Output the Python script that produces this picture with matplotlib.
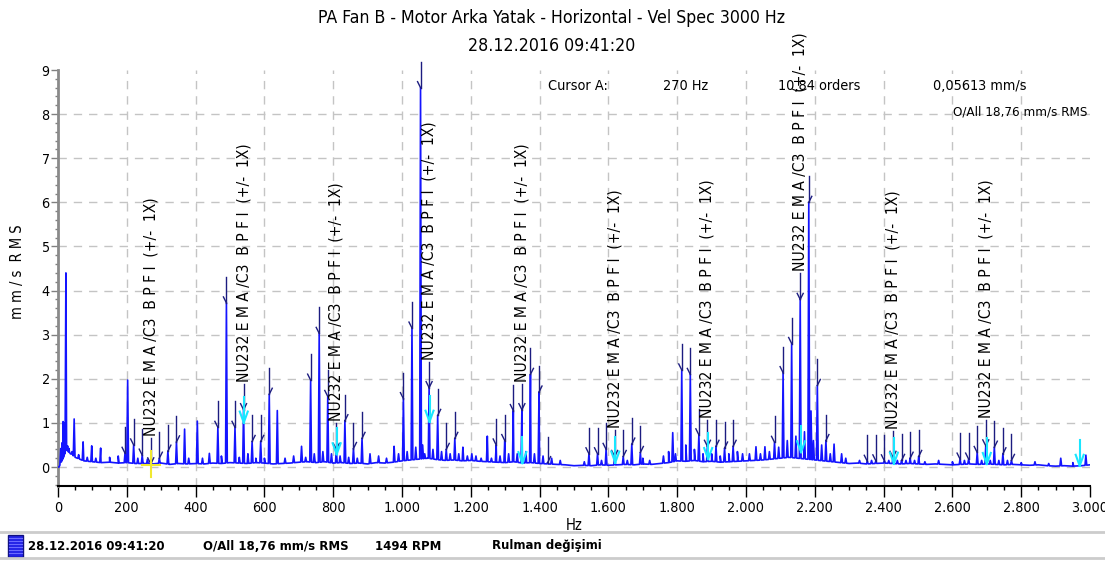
import os
import numpy as np
import matplotlib
matplotlib.use('Agg')
import matplotlib.pyplot as plt
from matplotlib import font_manager
from matplotlib.lines import Line2D
from matplotlib.patches import Rectangle
from matplotlib.ticker import MultipleLocator, FuncFormatter

# --- data -----------------------------------------------------------------
title_1 = 'PA Fan B - Motor Arka Yatak - Horizontal - Vel Spec 3000 Hz'
title_2 = '28.12.2016 09:41:20'
bar_texts = ['28.12.2016 09:41:20', 'O/All 18,76 mm/s RMS', '1494 RPM', 'Rulman değişimi']
cursor_texts = ['Cursor A:', '270 Hz', '10,84 orders', '0,05613 mm/s']
overall_text = 'O/All 18,76 mm/s RMS'
fault_label = 'NU232 E M A /C3  B P F I  (+/-  1X)'
x_grid = [200, 400, 600, 800, 1000, 1200, 1400, 1600, 1800, 2000, 2200, 2400, 2600, 2800]
y_grid = [0, 1, 2, 3, 4, 5, 6, 7, 8]

speed_hz = 24.9        # 1X (1494 RPM)
bpfi_hz = 269.7        # NU232 EMA/C3 BPFI
cursor_hz = 270.0
cursor_val = 0.05613

# noise floor every 25 Hz (mm/s)
floor_hz = [0, 3] + list(range(25, 3001, 25))
floor_amp = [0.0, 0.0,
             0.38, 0.22, 0.14, 0.12, 0.10, 0.11, 0.09, 0.10, 0.08,
             0.08, 0.07, 0.09, 0.06, 0.08, 0.07, 0.08, 0.07, 0.09, 0.08,
             0.10, 0.09, 0.08, 0.10, 0.09, 0.07, 0.08, 0.09, 0.11, 0.12,
             0.10, 0.12, 0.09, 0.10, 0.08, 0.09, 0.07, 0.10, 0.09, 0.11,
             0.14, 0.16, 0.18, 0.20, 0.17, 0.15, 0.16, 0.14, 0.15, 0.13,
             0.12, 0.11, 0.10, 0.12, 0.09, 0.10, 0.08, 0.07, 0.06, 0.05,
             0.03, 0.04, 0.03, 0.05, 0.04, 0.05, 0.06, 0.05, 0.07, 0.06,
             0.08, 0.10, 0.14, 0.13, 0.15, 0.12, 0.13, 0.11, 0.12, 0.13,
             0.14, 0.15, 0.16, 0.18, 0.20, 0.22, 0.20, 0.18, 0.16, 0.14,
             0.12, 0.10, 0.08, 0.09, 0.07, 0.08, 0.09, 0.08, 0.07, 0.08,
             0.07, 0.06, 0.07, 0.06, 0.05, 0.06, 0.07, 0.06, 0.07, 0.06,
             0.05, 0.06, 0.05, 0.04, 0.05, 0.03, 0.02, 0.03, 0.02, 0.03,
             0.05]

# peaks at the BPFI harmonics and their 1X sidebands
peak_hz = [194.9, 219.9, 244.8, 294.6, 319.5, 344.4,
           464.7, 489.6, 514.5, 539.4, 564.3, 589.2, 614.1,
           734.4, 759.3, 784.2, 809.1, 834.0, 858.9, 883.8,
           1004.1, 1029.0, 1053.9, 1078.8, 1103.7, 1128.6, 1153.5,
           1273.8, 1298.7, 1323.6, 1348.5, 1373.4, 1398.3, 1423.2,
           1543.5, 1568.4, 1593.3, 1618.2, 1643.1, 1668.0, 1692.9,
           1813.2, 1838.1, 1863.0, 1887.9, 1912.8, 1937.7, 1962.6,
           2082.9, 2107.8, 2132.7, 2157.6, 2182.5, 2207.4, 2232.3,
           2352.6, 2377.5, 2402.4, 2427.3, 2452.2, 2477.1, 2502.0,
           2622.3, 2647.2, 2672.1, 2697.0, 2721.9, 2746.8, 2771.7]
peak_amp = [0.32, 0.50, 0.27, 0.20, 0.36, 0.57,
            0.90, 3.72, 0.90, 1.30, 0.58, 0.58, 1.65,
            1.97, 3.03, 1.60, 0.40, 1.05, 0.42, 0.65,
            1.55, 3.15, 8.60, 1.80, 1.17, 0.40, 0.65,
            0.50, 0.60, 1.28, 1.30, 2.10, 1.70, 0.10,
            0.30, 0.30, 0.40, 0.24, 0.24, 0.52, 0.33,
            2.20, 2.10, 0.73, 0.47, 0.47, 0.43, 0.47,
            0.56, 2.14, 2.80, 3.80, 6.00, 1.85, 0.60,
            0.13, 0.14, 0.14, 0.22, 0.15, 0.20, 0.24,
            0.18, 0.18, 0.33, 0.48, 0.45, 0.30, 0.15]

# other lines in the spectrum
other_hz = [8, 12, 15, 18, 23, 28, 32, 36, 41, 47, 60, 73, 85, 98, 110, 124, 150, 175,
            202.5, 232, 260, 368, 380, 405, 420, 440,
            475, 527, 552, 575, 600, 637.5, 660, 685, 708, 720, 745, 770, 795, 820, 845,
            870, 907, 932, 955, 977, 990,
            1015, 1040, 1060, 1066, 1090, 1115, 1140, 1165, 1177, 1190, 1203, 1215, 1230, 1248,
            1260, 1285, 1310, 1335, 1360, 1385, 1410, 1435, 1460,
            1530, 1580, 1655, 1700, 1720, 1760, 1775, 1787, 1795,
            1825, 1850, 1875, 1900, 1925, 1950, 1975, 1990,
            2010, 2029, 2042, 2055, 2068, 2095, 2120, 2145, 2170, 2189, 2196, 2220, 2245,
            2256, 2278, 2290,
            2330, 2365, 2415, 2440, 2465, 2490, 2520, 2560, 2600, 2635, 2685, 2710, 2735,
            2760, 2800, 2840, 2880, 2915, 2950, 2988]
other_amp = [0.42, 0.55, 1.03, 1.00, 4.40, 0.48, 0.42, 0.30, 0.35, 1.09, 0.28, 0.57, 0.22,
             0.48, 0.20, 0.43, 0.22, 0.25,
             1.97, 0.20, 0.18, 0.86, 0.20, 1.04, 0.20, 0.31,
             0.25, 0.22, 0.30, 0.20, 0.20, 1.28, 0.20, 0.25, 0.47, 0.22, 0.30, 0.35, 0.30,
             0.25, 0.22, 0.20, 0.30, 0.25, 0.20, 0.47, 0.30,
             0.35, 0.45, 0.50, 0.30, 0.40, 0.35, 0.30, 0.30, 0.45, 0.25, 0.30, 0.25, 0.20, 0.70,
             0.20, 0.25, 0.30, 0.30, 0.35, 0.30, 0.25, 0.20, 0.15,
             0.12, 0.15, 0.15, 0.20, 0.15, 0.25, 0.35, 0.78, 0.30,
             0.50, 0.40, 0.30, 0.30, 0.25, 0.30, 0.35, 0.30,
             0.30, 0.46, 0.30, 0.46, 0.35, 0.45, 0.60, 0.70, 0.80, 1.27, 0.60, 0.50, 0.30,
             0.52, 0.30, 0.20,
             0.15, 0.15, 0.15, 0.15, 0.15, 0.15, 0.12, 0.15, 0.12, 0.15, 0.15, 0.15, 0.15,
             0.15, 0.10, 0.12, 0.08, 0.20, 0.10, 0.27]

# --- build the spectrum line ----------------------------------------------
hw = 2.5
all_hz = np.array(peak_hz + other_hz)
all_amp = np.array(peak_amp + other_amp)
feet = np.concatenate([all_hz - hw, all_hz + hw])
xs = np.concatenate([np.array(floor_hz, float), feet, all_hz])
ys = np.concatenate([np.array(floor_amp), np.interp(feet, floor_hz, floor_amp), all_amp])
order = np.argsort(xs, kind='stable')
spec_hz, spec_amp = xs[order], ys[order]

# --- fonts: use a narrow face when one is installed ------------------------
def find_file(keys):
    for f in font_manager.fontManager.ttflist:
        base = os.path.basename(f.fname)
        if any(k in base for k in keys):
            return f
    return None


reg = find_file(['LiberationSansNarrow-Regular', 'DejaVuSansCondensed.ttf'])
if reg is not None:
    plt.rcParams['font.family'] = [reg.name, 'DejaVu Sans']
    plt.rcParams['font.stretch'] = reg.stretch
else:
    plt.rcParams['font.family'] = ['Liberation Sans', 'DejaVu Sans']

W, H = 1105, 561
fig = plt.figure(figsize=(W / 100, H / 100), dpi=100)
renderer = fig.canvas.get_renderer()


def fit(text, target, weight='normal', grow=1.05):
    # font size that gives the text about the target width in pixels
    t = fig.text(0, 0, text, fontsize=10, fontweight=weight)
    w = t.get_window_extent(renderer).width
    t.remove()
    return 10 * target / w * grow


ax = fig.add_axes([58 / W, 1 - 486 / H, (1090 - 58) / W, (486 - 70) / H])
ax.set_xlim(0, 3000)
ax.set_ylim(-0.43, 9.0)
px_x = 3000 / (1090 - 58)
px_y = 9.43 / (486 - 70)

tick_size = fit('1.000', 35)
for gx in x_grid:
    ax.axvline(gx, color='#c4c4c4', linestyle=(0, (6, 5)), lw=1, zorder=1)
for gy in y_grid:
    ax.axhline(gy, color='#c4c4c4', linestyle=(0, (6, 5)), lw=1, zorder=1)
ax.xaxis.set_major_locator(MultipleLocator(200))
ax.xaxis.set_minor_locator(MultipleLocator(50))
ax.yaxis.set_major_locator(MultipleLocator(1))
ax.yaxis.set_minor_locator(MultipleLocator(0.2))
ax.xaxis.set_major_formatter(FuncFormatter(lambda v, p: f'{int(v):,}'.replace(',', '.')))
ax.tick_params(axis='x', which='major', length=8, width=1, color='black', labelsize=tick_size, pad=3)
ax.tick_params(axis='x', which='minor', length=3, width=1, color='black')
ax.tick_params(axis='y', which='major', length=5, width=1, color='#808080', labelsize=tick_size, pad=1)
ax.tick_params(axis='y', which='minor', length=2.5, width=1, color='#808080')
for s in ['top', 'right']:
    ax.spines[s].set_visible(False)
ax.spines['bottom'].set_linewidth(1.5)
ax.spines['left'].set_color('#8a8a8a')
ax.spines['left'].set_linewidth(2)

ax.plot(spec_hz, spec_amp, color='#1414ff', lw=1.2, zorder=3)

navy = '#1c1c80'
label_size = fit(fault_label, 240, grow=1.0)


def amp_at(f):
    return float(np.interp(f, spec_hz, spec_amp))


def marker(f, side, color, stem=26, bw=3, bh=6, lw=1.0, z=4):
    a = amp_at(f)
    top = a + stem * px_y
    ax.plot([f, f], [a, top], color=color, lw=lw, zorder=z, clip_on=False)
    if side in ('lower', 'both'):
        ax.plot([f - bw * px_x, f], [a + bh * px_y, a], color=color, lw=lw, zorder=z, clip_on=False)
    if side in ('upper', 'both'):
        ax.plot([f, f + bw * px_x], [a, a + bh * px_y], color=color, lw=lw, zorder=z, clip_on=False)
    return top


# BPFI harmonics with +/- 1X sidebands and their labels
for n in range(1, 11):
    c = n * bpfi_hz
    for k in (1, 2, 3):
        marker(c - k * speed_hz, 'lower', navy)
        marker(c + k * speed_hz, 'upper', navy)
    top = marker(c, 'both', navy)
    ax.text(c, top + 2 * px_y, fault_label, rotation=90, ha='center', va='bottom',
            fontsize=label_size, color='black', zorder=5)

# harmonic cursors of cursor A
for n in range(2, 12):
    marker(n * cursor_hz, 'both', '#19e6ff', stem=26, bw=4, bh=11, lw=1.5, z=6)

# cursor A crosshair
ax.plot([cursor_hz - 9 * px_x, cursor_hz + 9 * px_x], [cursor_val, cursor_val],
        color='#f0e830', lw=1.5, zorder=7)
ax.plot([cursor_hz, cursor_hz], [cursor_val - 12 * px_y, cursor_val + 14 * px_y],
        color='#f0e830', lw=1.5, zorder=7, clip_on=False)

ax.set_xlabel('Hz', fontsize=fit('Hz', 16), labelpad=2)
ylab = 'm m / s  R M S'
fig.text(18 / W, 1 - 272 / H, ylab, rotation=90, ha='center', va='center',
         fontsize=fit(ylab, 95, grow=1.0))

# titles and cursor readout
title_size = fit(title_1, 446)
fig.text(551 / W, 1 - 18 / H, title_1, ha='center', va='center', fontsize=title_size)
fig.text(552 / W, 1 - 46 / H, title_2, ha='center', va='center', fontsize=title_size)
cur_size = fit(cursor_texts[0], 57)
for x, t in zip([548, 663, 778, 933], cursor_texts):
    fig.text(x / W, 1 - 86 / H, t, ha='left', va='center', fontsize=cur_size)
fig.text(1087 / W, 1 - 112 / H, overall_text, ha='right', va='center',
         fontsize=fit(overall_text, 129))

# status bar
for yb in (532, 558):
    fig.add_artist(Line2D([0, 1], [1 - yb / H, 1 - yb / H], color='#cccccc', lw=2,
                          transform=fig.transFigure))
fig.add_artist(Rectangle((8 / W, 1 - 557 / H), 15 / W, 22 / H, facecolor='#2323e6',
                         edgecolor='#101080', lw=1, transform=fig.transFigure))
for yy in range(538, 556, 3):
    fig.add_artist(Line2D([9 / W, 22 / W], [1 - yy / H, 1 - yy / H], color='#6b6bff', lw=0.8,
                          transform=fig.transFigure))
bar_size = fit(bar_texts[0], 130, 'bold')
for x, t in zip([28, 203, 375, 492], bar_texts):
    fig.text(x / W, 1 - 546 / H, t, ha='left', va='center', fontsize=bar_size, fontweight='bold')

fig.savefig('out.png', dpi=100)
